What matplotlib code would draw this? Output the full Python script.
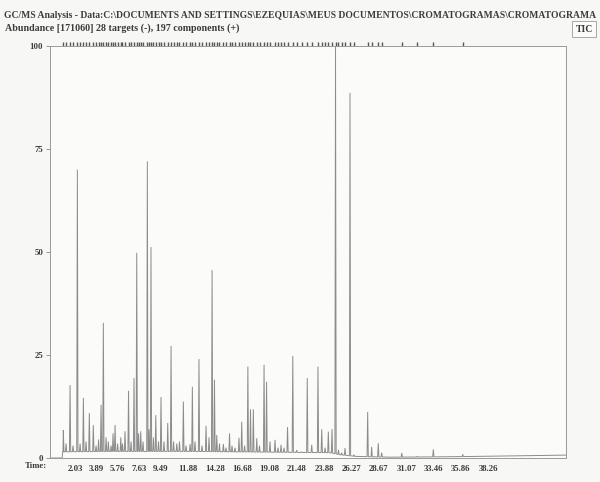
#!/usr/bin/env python
import matplotlib
matplotlib.use('Agg')
import matplotlib.pyplot as plt
import numpy as np

# peaks: retention time (min), relative abundance (%)
peak_t = [0.99, 1.23, 1.58, 1.84, 2.22, 2.46, 2.75, 2.98, 3.27, 3.62, 3.86, 4.08,
          4.30, 4.50, 4.74, 4.94, 5.18, 5.35, 5.53, 5.75, 6.03, 6.18, 6.40, 6.71,
          6.93, 7.19, 7.43, 7.59, 7.78, 7.98, 8.36, 8.51, 8.68, 8.89, 9.10, 9.34,
          9.56, 9.82, 10.15, 10.44, 10.66, 10.94, 11.18, 11.52, 11.75, 12.11, 12.31,
          12.54, 12.89, 13.16, 13.51, 13.77, 14.04, 14.25, 14.45, 14.69, 15.03, 15.26,
          15.57, 15.79, 16.05, 16.40, 16.64, 16.89, 17.18, 17.41, 17.66, 17.96, 18.20,
          18.60, 18.82, 19.12, 19.56, 19.82, 20.09, 20.35, 20.66, 21.12, 21.46, 21.90,
          22.39, 22.78, 23.33, 23.66, 23.95, 24.24, 24.56, 24.87, 25.13, 25.41, 25.70,
          26.14, 26.49, 27.69, 28.04, 28.62, 28.92, 30.68, 32.02, 33.45, 36.03]
peak_h = [6.8, 3.5, 17.7, 3.0, 70.0, 3.5, 14.6, 4.0, 10.9, 8.0, 3.0, 4.5,
          12.9, 32.8, 5.0, 4.0, 3.0, 6.0, 8.0, 3.5, 5.0, 3.5, 6.5, 16.3,
          4.0, 19.4, 49.8, 6.0, 6.5, 4.0, 72.0, 7.0, 51.2, 5.0, 10.4, 4.0,
          14.8, 4.0, 8.5, 27.2, 4.0, 3.5, 4.0, 13.7, 3.0, 3.4, 17.3,
          4.0, 24.0, 3.0, 7.8, 5.0, 45.6, 19.0, 5.6, 3.5, 3.4, 2.5,
          6.0, 3.0, 2.5, 4.9, 8.8, 3.0, 22.2, 11.8, 11.8, 4.8, 3.0,
          22.6, 18.5, 4.0, 4.4, 2.5, 3.2, 2.5, 7.5, 24.8, 1.9, 1.5,
          19.4, 3.2, 22.2, 7.0, 2.5, 6.4, 7.0, 100.0, 2.0, 1.3, 2.4,
          88.6, 0.8, 11.2, 2.7, 3.6, 1.3, 1.2, 0.4, 2.1, 0.9]

# baseline level between peaks
base_t = [-0.18, 0.88, 0.96, 5.0, 12.0, 20.0, 24.39, 25.26, 26.58, 27.89, 29.65, 34.91, 45.09]
base_y = [0.0, 0.0, 1.5, 1.6, 1.6, 1.4, 1.3, 0.8, 0.4, 0.3, 0.2, 0.3, 0.7]

time_ticks = [2.03, 3.89, 5.76, 7.63, 9.49, 11.88, 14.28, 16.68, 19.08, 21.48,
              23.88, 26.27, 28.67, 31.07, 33.46, 35.86, 38.26]
abund_ticks = [0, 25, 50, 75, 100]

title_txt = ('GC/MS Analysis - Data:C:\\DOCUMENTS AND SETTINGS\\EZEQUIAS\\MEUS DOCUMENTOS'
             '\\CROMATOGRAMAS\\CROMATOGRAMA')
sub_txt = 'Abundance [171060] 28 targets (-), 197 components (+)'

SERIF = ['Liberation Serif', 'DejaVu Serif']
INK = '#3c3c3c'
TRACE = '#8c8c8c'


def build_trace(t, h, bt, by, w=0.055):
    # each peak is a narrow spike standing on the baseline
    xs = list(bt)
    ys = list(by)
    for ti, hi in zip(t, h):
        b = np.interp(ti, bt, by)
        xs += [ti - w, ti, ti + w]
        ys += [b, hi, b]
    order = np.argsort(xs, kind='stable')
    return np.asarray(xs)[order], np.asarray(ys)[order]


def main():
    fig = plt.figure(figsize=(6.0, 4.82), dpi=100)
    fig.patch.set_facecolor('#f7f7f5')
    ax = fig.add_axes([50/600, 1 - 458/482, 516/600, 412/482])
    ax.set_facecolor('#fbfbf9')

    x, y = build_trace(peak_t, peak_h, base_t, base_y)
    ax.plot(x, y, color=TRACE, lw=0.7, solid_joinstyle='miter')

    # component markers along the top edge
    ax.plot(peak_t, [100.5] * len(peak_t), ls='none', marker='|', ms=2.6,
            mew=1.0, color='#555555', clip_on=False)

    ax.set_xlim(-0.18, 45.09)
    ax.set_ylim(0, 100)
    ax.set_xticks(time_ticks)
    ax.set_xticklabels([f'{v:.2f}' for v in time_ticks])
    ax.set_yticks(abund_ticks)
    ax.tick_params(axis='x', length=0, pad=5, labelsize=6.3, colors=INK)
    ax.tick_params(axis='y', length=3, width=0.6, pad=2, labelsize=6.3,
                   colors=INK, color='#888888')
    for lab in ax.get_xticklabels() + ax.get_yticklabels():
        lab.set_family(SERIF)
        lab.set_fontweight('bold')
    for sp in ax.spines.values():
        sp.set_color('#9a9a9a')
        sp.set_linewidth(0.7)

    fig.text(25/600, 1 - 466/482, 'Time:', family=SERIF, fontsize=6.3,
             fontweight='bold', color=INK, va='center')
    fig.text(4/600, 1 - 15/482, title_txt, family=SERIF, fontsize=6.9,
             fontweight='bold', color=INK, va='center')
    fig.text(5/600, 1 - 28/482, sub_txt, family=SERIF, fontsize=7.2,
             fontweight='bold', color=INK, va='center')
    fig.text(584/600, 1 - 29/482, 'TIC', family=SERIF, fontsize=7,
             fontweight='bold', color=INK, va='center', ha='center',
             bbox=dict(boxstyle='square,pad=0.35', fc='#fbfbf9', ec='#9a9a9a', lw=0.6))

    fig.savefig('out.png', dpi=100, facecolor=fig.get_facecolor())
    plt.close(fig)


if __name__ == '__main__':
    main()
